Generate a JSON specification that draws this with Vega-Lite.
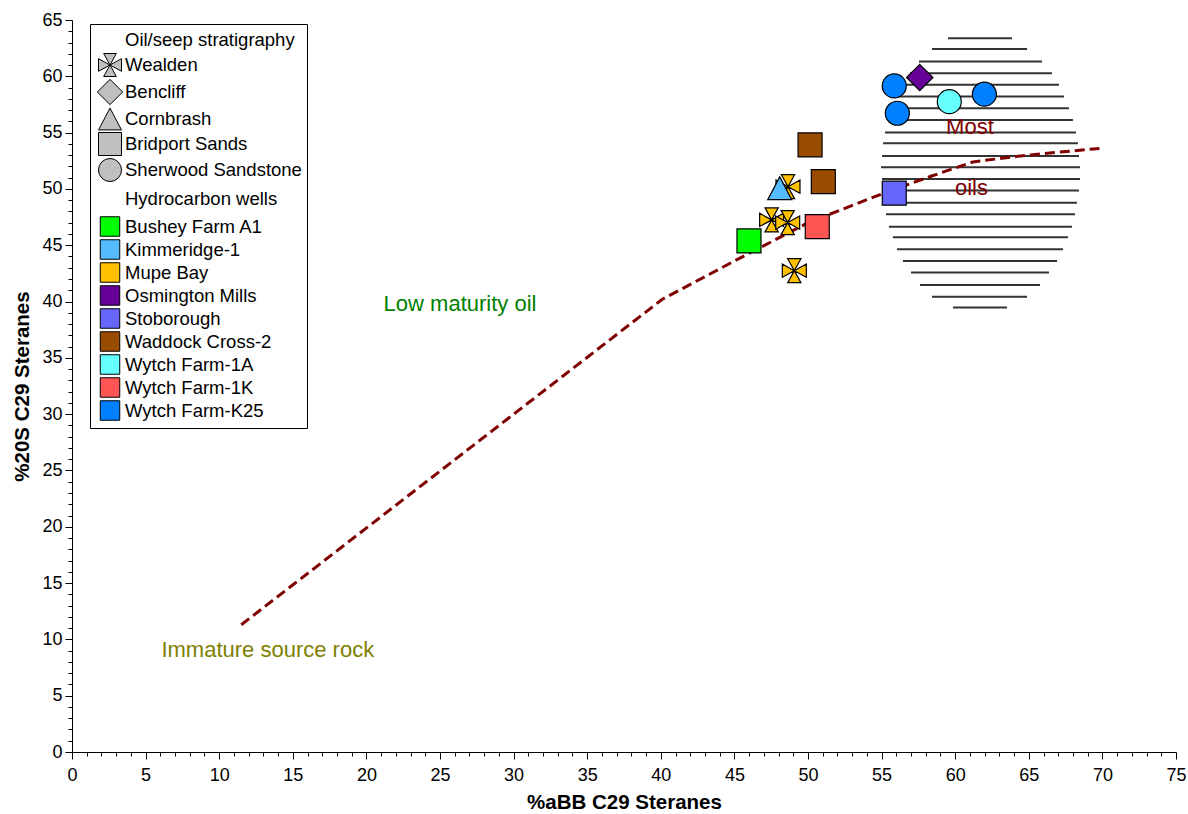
{
  "$schema": "https://vega.github.io/schema/vega-lite/v6.json",
  "width": 1104,
  "height": 732,
  "autosize": {"type": "none"},
  "padding": {"left": 72, "top": 20, "right": 12, "bottom": 62},
  "background": "white",
  "config": {
    "view": {"stroke": null},
    "font": "Liberation Sans",
    "axis": {
      "domainColor": "black", "tickColor": "black", "labelColor": "black", "titleColor": "black",
      "grid": false, "labelFont": "Liberation Sans", "titleFont": "Liberation Sans",
      "labelFontSize": 18, "titleFontSize": 20.5, "titleFontWeight": "bold",
      "domainWidth": 1, "tickWidth": 1, "labelFlush": false, "labelOverlap": false
    }
  },
  "resolve": {"scale": {"fill": "independent", "shape": "independent", "size": "independent"}, "legend": {"fill": "independent", "shape": "independent", "size": "independent"}},
  "encoding": {
    "x": {
      "field": "x", "type": "quantitative",
      "scale": {"domain": [0, 75], "nice": false, "zero": false},
      "axis": {
        "title": "%aBB C29 Steranes",
        "values": [0,1,2,3,4,5,6,7,8,9,10,11,12,13,14,15,16,17,18,19,20,21,22,23,24,25,26,27,28,29,30,31,32,33,34,35,36,37,38,39,40,41,42,43,44,45,46,47,48,49,50,51,52,53,54,55,56,57,58,59,60,61,62,63,64,65,66,67,68,69,70,71,72,73,74,75],
        "labelExpr": "datum.value % 5 === 0 ? datum.label : ''",
        "tickSize": {"condition": {"test": "datum.value % 5 === 0", "value": 7}, "value": 4},
        "labelPadding": 7,
        "titlePadding": 8
      }
    },
    "y": {
      "field": "y", "type": "quantitative",
      "scale": {"domain": [0, 65], "nice": false, "zero": false},
      "axis": {
        "title": "%20S C29 Steranes",
        "values": [0,1,2,3,4,5,6,7,8,9,10,11,12,13,14,15,16,17,18,19,20,21,22,23,24,25,26,27,28,29,30,31,32,33,34,35,36,37,38,39,40,41,42,43,44,45,46,47,48,49,50,51,52,53,54,55,56,57,58,59,60,61,62,63,64,65],
        "labelExpr": "datum.value % 5 === 0 ? datum.label : ''",
        "tickSize": {"condition": {"test": "datum.value % 5 === 0", "value": 7}, "value": 4},
        "labelPadding": 3,
        "titlePadding": 9
      }
    }
  },
  "layer": [
    {
      "data": {"values": [
        {"y": 63.38, "x": 59.51, "x2": 63.86},
        {"y": 62.43, "x": 58.42, "x2": 64.88},
        {"y": 61.31, "x": 57.54, "x2": 65.90},
        {"y": 60.28, "x": 56.93, "x2": 66.58},
        {"y": 59.24, "x": 56.39, "x2": 67.05},
        {"y": 58.20, "x": 55.91, "x2": 67.39},
        {"y": 57.17, "x": 55.71, "x2": 67.73},
        {"y": 56.13, "x": 55.43, "x2": 68.00},
        {"y": 55.00, "x": 55.23, "x2": 68.21},
        {"y": 54.06, "x": 55.10, "x2": 68.34},
        {"y": 52.93, "x": 55.03, "x2": 68.41},
        {"y": 51.93, "x": 54.96, "x2": 68.48},
        {"y": 50.89, "x": 55.03, "x2": 68.48},
        {"y": 49.85, "x": 55.10, "x2": 68.41},
        {"y": 48.78, "x": 55.16, "x2": 68.27},
        {"y": 47.75, "x": 55.30, "x2": 68.14},
        {"y": 46.65, "x": 55.50, "x2": 67.93},
        {"y": 45.71, "x": 55.77, "x2": 67.66},
        {"y": 44.64, "x": 56.05, "x2": 67.32},
        {"y": 43.61, "x": 56.45, "x2": 66.92},
        {"y": 42.57, "x": 57.00, "x2": 66.37},
        {"y": 41.47, "x": 57.61, "x2": 65.76},
        {"y": 40.43, "x": 58.42, "x2": 64.88},
        {"y": 39.46, "x": 59.85, "x2": 63.52}
      ]},
      "mark": {"type": "rule", "color": "#333333", "strokeWidth": 2},
      "encoding": {"x2": {"field": "x2"}}
    },
    {
      "data": {"values": [
        {"x": 11.5, "y": 11.3},
        {"x": 40.1, "y": 40.2},
        {"x": 45.0, "y": 43.6},
        {"x": 50.0, "y": 47.0},
        {"x": 55.1, "y": 49.6},
        {"x": 58.3, "y": 51.1},
        {"x": 61.2, "y": 52.4},
        {"x": 64.9, "y": 53.0},
        {"x": 69.8, "y": 53.6}
      ]},
      "mark": {"type": "line", "color": "#800000", "strokeWidth": 3, "strokeDash": [10, 5]},
      "encoding": {}
    },
    {
      "data": {"values": [
        {"well": "Mupe Bay", "strat": "Wealden", "x": 48.64, "y": 50.2},
        {"well": "Kimmeridge-1", "strat": "Cornbrash", "x": 48.08, "y": 50.06},
        {"well": "Mupe Bay", "strat": "Wealden", "x": 47.53, "y": 47.25},
        {"well": "Mupe Bay", "strat": "Wealden", "x": 48.62, "y": 47.01},
        {"well": "Mupe Bay", "strat": "Wealden", "x": 49.07, "y": 42.74},
        {"well": "Bushey Farm A1", "strat": "Bridport Sands", "x": 45.99, "y": 45.38},
        {"well": "Wytch Farm-1K", "strat": "Bridport Sands", "x": 50.63, "y": 46.65},
        {"well": "Waddock Cross-2", "strat": "Bridport Sands", "x": 50.14, "y": 53.91},
        {"well": "Waddock Cross-2", "strat": "Bridport Sands", "x": 51.04, "y": 50.65},
        {"well": "Stoborough", "strat": "Bridport Sands", "x": 55.86, "y": 49.62},
        {"well": "Osmington Mills", "strat": "Bencliff", "x": 57.59, "y": 59.89},
        {"well": "Wytch Farm-K25", "strat": "Sherwood Sandstone", "x": 55.86, "y": 59.15},
        {"well": "Wytch Farm-K25", "strat": "Sherwood Sandstone", "x": 56.07, "y": 56.72},
        {"well": "Wytch Farm-K25", "strat": "Sherwood Sandstone", "x": 61.98, "y": 58.41},
        {"well": "Wytch Farm-1A", "strat": "Sherwood Sandstone", "x": 59.6, "y": 57.75}
      ]},
      "mark": {"type": "point", "filled": true, "stroke": "black", "strokeWidth": 1.2, "size": 576, "opacity": 1},
      "encoding": {
        "fill": {
          "field": "well", "type": "nominal", "legend": null,
          "scale": {
            "domain": ["Bushey Farm A1", "Kimmeridge-1", "Mupe Bay", "Osmington Mills", "Stoborough", "Waddock Cross-2", "Wytch Farm-1A", "Wytch Farm-1K", "Wytch Farm-K25"],
            "range": ["#00ff00", "#55bbff", "#ffc000", "#660099", "#6666ff", "#994c00", "#66ffff", "#ff5555", "#0080ff"]
          }
        },
        "shape": {
          "field": "strat", "type": "nominal", "legend": null,
          "scale": {
            "domain": ["Wealden", "Bencliff", "Cornbrash", "Bridport Sands", "Sherwood Sandstone"],
            "range": ["M0,0L-0.55,-1L0.55,-1Z M0,0L-0.55,1L0.55,1Z M0,0L-1,-0.55L-1,0.55Z M0,0L1,-0.55L1,0.55Z", "M0,-1.1L1.1,0L0,1.1L-1.1,0Z", "M0,-0.95L1,0.95L-1,0.95Z", "square", "circle"]
          }
        }
      }
    },
    {
      "data": {"values": [{"key": "Wealden"}]},
      "transform": [{"filter": "false"}],
      "mark": {"type": "point", "filled": true, "stroke": "black", "strokeWidth": 1, "opacity": 1},
      "encoding": {
        "fill": {
          "field": "key", "type": "nominal",
          "scale": {
            "domain": ["Oil/seep stratigraphy", "Wealden", "Bencliff", "Cornbrash", "Bridport Sands", "Sherwood Sandstone", "Hydrocarbon wells", "Bushey Farm A1", "Kimmeridge-1", "Mupe Bay", "Osmington Mills", "Stoborough", "Waddock Cross-2", "Wytch Farm-1A", "Wytch Farm-1K", "Wytch Farm-K25"],
            "range": ["transparent", "#c0c0c0", "#c0c0c0", "#c0c0c0", "#c0c0c0", "#c0c0c0", "transparent", "#00ff00", "#55bbff", "#ffc000", "#660099", "#6666ff", "#994c00", "#66ffff", "#ff5555", "#0080ff"]
          },
          "legend": {"title": null, "orient": "none", "legendX": 18, "legendY": 4, "padding": 5, "rowPadding": -2, "labelOffset": 0, "labelLimit": 300, "labelFontSize": 18.5, "labelFont": "Liberation Sans", "labelColor": "black", "strokeColor": "black", "fillColor": "white", "symbolStrokeColor": "black", "symbolStrokeWidth": 1, "symbolOpacity": 1,
            "encode": {"symbols": {"update": {"stroke": {"value": "black"}, "strokeWidth": {"value": 1}}}}}
        },
        "shape": {
          "field": "key", "type": "nominal",
          "scale": {
            "domain": ["Oil/seep stratigraphy", "Wealden", "Bencliff", "Cornbrash", "Bridport Sands", "Sherwood Sandstone", "Hydrocarbon wells", "Bushey Farm A1", "Kimmeridge-1", "Mupe Bay", "Osmington Mills", "Stoborough", "Waddock Cross-2", "Wytch Farm-1A", "Wytch Farm-1K", "Wytch Farm-K25"],
            "range": ["M0,-1M0,1", "M0,0L-0.55,-1L0.55,-1Z M0,0L-0.55,1L0.55,1Z M0,0L-1,-0.55L-1,0.55Z M0,0L1,-0.55L1,0.55Z", "M0,-1.1L1.1,0L0,1.1L-1.1,0Z", "M0,-0.95L1,0.95L-1,0.95Z", "square", "circle", "M0,-1M0,1", "square", "square", "square", "square", "square", "square", "square", "square", "square"]
          },
          "legend": {"title": null, "orient": "none", "legendX": 18, "legendY": 4, "padding": 5, "rowPadding": -2, "labelOffset": 0, "labelLimit": 300, "labelFontSize": 18.5, "labelFont": "Liberation Sans", "labelColor": "black", "strokeColor": "black", "fillColor": "white", "symbolStrokeColor": "black", "symbolStrokeWidth": 1, "symbolOpacity": 1,
            "encode": {"symbols": {"update": {"stroke": {"value": "black"}, "strokeWidth": {"value": 1}}}}}
        },
        "size": {
          "field": "key", "type": "nominal",
          "scale": {
            "type": "ordinal",
            "domain": ["Oil/seep stratigraphy", "Wealden", "Bencliff", "Cornbrash", "Bridport Sands", "Sherwood Sandstone", "Hydrocarbon wells", "Bushey Farm A1", "Kimmeridge-1", "Mupe Bay", "Osmington Mills", "Stoborough", "Waddock Cross-2", "Wytch Farm-1A", "Wytch Farm-1K", "Wytch Farm-K25"],
            "range": [441, 529, 529, 529, 529, 529, 804, 380, 380, 380, 380, 380, 380, 380, 380, 380]
          },
          "legend": {"title": null, "orient": "none", "legendX": 18, "legendY": 4, "padding": 5, "rowPadding": -2, "labelOffset": 0, "labelLimit": 300, "labelFontSize": 18.5, "labelFont": "Liberation Sans", "labelColor": "black", "strokeColor": "black", "fillColor": "white", "symbolStrokeColor": "black", "symbolStrokeWidth": 1, "symbolOpacity": 1,
            "encode": {"symbols": {"update": {"stroke": {"value": "black"}, "strokeWidth": {"value": 1}}}}}
        }
      }
    },
    {
      "data": {"values": [
        {"label": "Low maturity oil", "x": 26.36, "y": 39.8},
        {"label": "Immature source rock", "x": 13.3, "y": 9.06},
        {"label": "Most", "x": 61.0, "y": 55.5},
        {"label": "oils", "x": 61.1, "y": 50.1}
      ]},
      "mark": {"type": "text", "fontSize": 22, "font": "Liberation Sans", "align": "center", "baseline": "middle"},
      "encoding": {
        "text": {"field": "label", "type": "nominal"},
        "color": {
          "field": "label", "type": "nominal", "legend": null,
          "scale": {"domain": ["Low maturity oil", "Immature source rock", "Most", "oils"], "range": ["#008000", "#808000", "#800000", "#800000"]}
        }
      }
    }
  ]
}
